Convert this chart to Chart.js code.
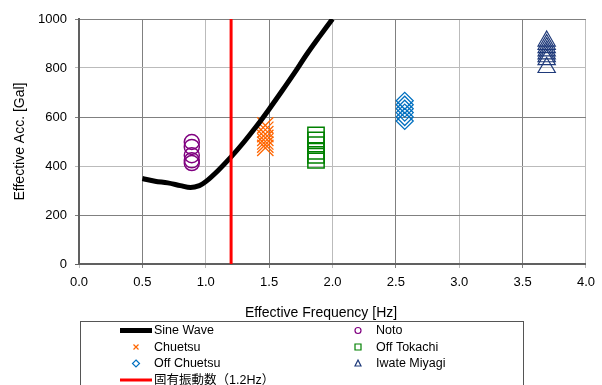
<!doctype html>
<html lang="ja">
  <head>
    <meta charset="utf-8">
    <title>Effective Acc. vs Effective Frequency</title>
    <script src="https://cdn.jsdelivr.net/npm/chart.js@4.4.0/dist/chart.umd.min.js"></script>
    <style>
      html, body { margin: 0; padding: 0; background: #fff; }
    </style>
  </head>
  <body>
    <canvas id="myChart" width="602" height="385"></canvas>

    <script>
      // sine wave curve
      var sineFreq = [0.5, 0.6, 0.7, 0.8, 0.88, 0.95, 1.0, 1.1, 1.2, 1.3, 1.4, 1.5, 1.6, 1.7, 1.8, 1.9, 2.0];
      var sineAcc  = [349, 338, 331, 320, 312, 320, 336, 383, 437, 497, 562, 632, 705, 780, 858, 930, 1000];

      // earthquake records (one frequency, several accelerations)
      var notoFreq = 0.89;
      var notoAcc = [498, 478, 444, 423, 412];
      var chuetsuFreq = 1.47;
      var chuetsuAcc = [566, 548, 530, 515, 500, 487, 474];
      var tokachiFreq = 1.87;
      var tokachiAcc = [525, 505, 485, 462, 445, 425];
      var offChuetsuFreq = 2.57;
      var offChuetsuAcc = [666, 650, 634, 618, 600, 584];
      var iwateFreq = 3.69;
      var iwateAcc = [910, 896, 883, 870, 858, 846, 834, 802];

      // natural frequency line
      var naturalFreq = 1.2;
      var naturalAcc = [0, 1000];

      var xTicks = [0.0, 0.5, 1.0, 1.5, 2.0, 2.5, 3.0, 3.5, 4.0];
      var yTicks = [0, 200, 400, 600, 800, 1000];

      var xTitle = "Effective Frequency [Hz]";
      var yTitle = "Effective Acc. [Gal]";

      function pairs(xs, ys) {
        return ys.map(function(y, i) { return { x: Array.isArray(xs) ? xs[i] : xs, y: y }; });
      }

      var FONT = '"Liberation Sans", Arial, "Noto Sans CJK JP", sans-serif';

      // legend symbols (small versions of the markers)
      function legendSymbol(c, ds, x, y) {
        c.save();
        c.strokeStyle = ds.borderColor;
        c.lineWidth = 1.2;
        c.beginPath();
        if (ds.legendKind === 'line') {
          c.lineWidth = ds.borderWidth;
          c.moveTo(120, y);
          c.lineTo(152, y);
        } else if (ds.pointStyle === 'circle') {
          c.arc(x, y, 3, 0, Math.PI * 2);
        } else if (ds.pointStyle === 'crossRot') {
          c.moveTo(x - 2.5, y - 2.5); c.lineTo(x + 2.5, y + 2.5);
          c.moveTo(x + 2.5, y - 2.5); c.lineTo(x - 2.5, y + 2.5);
        } else if (ds.pointStyle === 'rect') {
          c.rect(x - 3, y - 3, 6, 6);
        } else if (ds.pointStyle === 'rectRot') {
          c.moveTo(x, y - 3.5); c.lineTo(x + 3.5, y); c.lineTo(x, y + 3.5); c.lineTo(x - 3.5, y); c.closePath();
        } else if (ds.pointStyle === 'triangle') {
          c.moveTo(x, y - 3.5); c.lineTo(x + 3, y + 2.5); c.lineTo(x - 3, y + 2.5); c.closePath();
        }
        c.stroke();
        c.restore();
      }

      var boxLegend = {
        id: 'boxLegend',
        afterDraw: function(chart) {
          var c = chart.ctx;
          c.save();
          c.fillStyle = '#000';
          c.font = '14px ' + FONT;
          c.textAlign = 'center';
          c.textBaseline = 'middle';
          c.fillText(xTitle, 321, 313);

          c.strokeStyle = '#555';
          c.lineWidth = 1;
          c.strokeRect(80.5, 321.5, 443, 80);

          c.font = '12.5px ' + FONT;
          c.textAlign = 'left';
          var symX = [136, 358], textX = [154, 376];
          chart.data.datasets.forEach(function(ds, i) {
            var row = Math.floor(i / 2), col = i % 2;
            var y = 330.5 + row * 16.5;
            legendSymbol(c, ds, symX[col], y);
            c.fillStyle = '#000';
            c.fillText(ds.label, textX[col], y + 0.5);
          });
          c.restore();
        }
      };

      function showChart() {
        var ctx = document.getElementById("myChart").getContext("2d");
        Chart.defaults.color = '#000';
        Chart.defaults.font.family = FONT;

        var mychart = new Chart(ctx, {
          type: "scatter",
          data: {
            datasets: [
              {
                label: "Sine Wave",
                data: pairs(sineFreq, sineAcc),
                showLine: true,
                borderColor: "#000",
                borderWidth: 5,
                pointRadius: 0,
                tension: 0.35,
                legendKind: "line",
                order: 2
              },
              {
                label: "Noto",
                data: pairs(notoFreq, notoAcc),
                pointStyle: "circle",
                pointRadius: 7.5,
                borderColor: "#800080",
                backgroundColor: "rgba(0,0,0,0)",
                borderWidth: 1.5,
                order: 3
              },
              {
                label: "Chuetsu",
                data: pairs(chuetsuFreq, chuetsuAcc),
                pointStyle: "crossRot",
                pointRadius: 11.5,
                borderColor: "#FF6600",
                borderWidth: 1.3,
                order: 3
              },
              {
                label: "Off Tokachi",
                data: pairs(tokachiFreq, tokachiAcc),
                pointStyle: "rect",
                pointRadius: 11.5,
                borderColor: "#008000",
                backgroundColor: "rgba(0,0,0,0)",
                borderWidth: 1.5,
                order: 3
              },
              {
                label: "Off Chuetsu",
                data: pairs(offChuetsuFreq, offChuetsuAcc),
                pointStyle: "rectRot",
                pointRadius: 8.5,
                borderColor: "#0070C0",
                backgroundColor: "rgba(0,0,0,0)",
                borderWidth: 1.3,
                order: 3
              },
              {
                label: "Iwate Miyagi",
                data: pairs(iwateFreq, iwateAcc),
                pointStyle: "triangle",
                pointRadius: 10,
                borderColor: "#1F3A7A",
                backgroundColor: "rgba(0,0,0,0)",
                borderWidth: 1.2,
                order: 3
              },
              {
                label: "固有振動数（1.2Hz）",
                data: pairs([naturalFreq, naturalFreq], naturalAcc),
                showLine: true,
                borderColor: "#FF0000",
                borderWidth: 3,
                pointRadius: 0,
                legendKind: "line",
                order: 0
              }
            ]
          },
          options: {
            responsive: false,
            animation: false,
            layout: { padding: { top: 19, right: 13.5, left: 0, bottom: 0 } },
            plugins: {
              legend: { display: false },
              tooltip: { enabled: false }
            },
            scales: {
              x: {
                type: "linear",
                min: 0,
                max: 4,
                afterBuildTicks: function(axis) {
                  axis.ticks = xTicks.map(function(v) { return { value: v }; });
                },
                afterFit: function(axis) { axis.height = 121; },
                ticks: {
                  font: { size: 13 },
                  padding: 7,
                  maxRotation: 0,
                  callback: function(v) { return Number(v).toFixed(1); }
                },
                grid: {
                  tickLength: 4,
                  lineWidth: 1,
                  color: function(c) {
                    var v = c.tick ? c.tick.value : 0;
                    return (Math.round(v * 2) % 2 === 1) ? "#808080" : "#bbbbbb";
                  }
                },
                border: { color: "#606060", width: 2 }
              },
              y: {
                min: 0,
                max: 1000,
                afterBuildTicks: function(axis) {
                  axis.ticks = yTicks.map(function(v) { return { value: v }; });
                },
                afterFit: function(axis) { axis.width = 79; },
                title: {
                  display: true,
                  text: yTitle,
                  font: { size: 14 },
                  padding: { top: 12, bottom: 0 }
                },
                ticks: {
                  font: { size: 13 },
                  padding: 8,
                  callback: function(v) { return String(v); }
                },
                grid: {
                  tickLength: 4,
                  lineWidth: 1,
                  color: function(c) {
                    var v = c.tick ? c.tick.value : 0;
                    return (v / 200) % 2 === 1 ? "#808080" : (v === 0 ? "#606060" : "#bbbbbb");
                  }
                },
                border: { color: "#606060", width: 2 }
              }
            }
          },
          plugins: [boxLegend]
        });
      }

      showChart();
    </script>
  </body>
</html>
